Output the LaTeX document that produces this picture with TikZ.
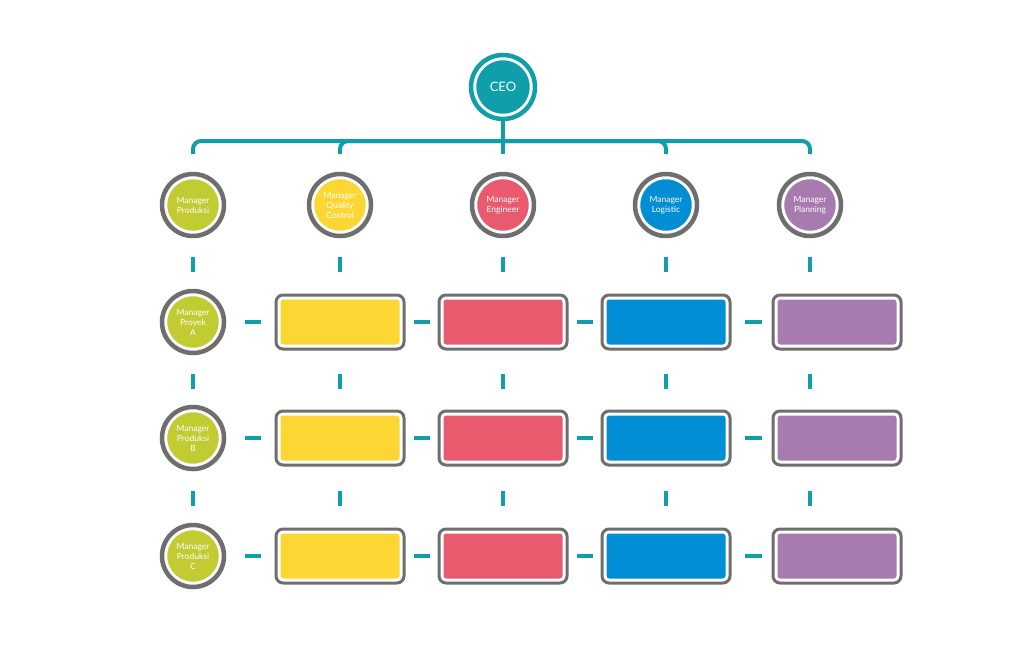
\documentclass[tikz,border=0pt]{standalone}
\usepackage{fontspec}
\setmainfont{Lato}
\definecolor{teal}{HTML}{0E9FAA}
\definecolor{ring}{HTML}{6E6E6E}
\definecolor{cg}{HTML}{C2CB32}
\definecolor{cy}{HTML}{FCD733}
\definecolor{cr}{HTML}{E95A6F}
\definecolor{cb}{HTML}{018ED5}
\definecolor{cp}{HTML}{A77BB0}
\begin{document}
\begin{tikzpicture}[x=1pt,y=-1pt,
  circ/.style={circle,minimum size=62pt,inner sep=0pt,fill=#1,text=white,font=\fontsize{8.5}{10}\selectfont,align=center,
    double=ring,draw=white,double distance=4.5pt,line width=3pt},
  box/.style={rounded corners=7pt,minimum width=128pt,minimum height=54pt,fill=#1,draw=white,line width=3pt,
    double=ring,double distance=3pt},
  dsh/.style={teal,line width=3.5pt},
  bus/.style={teal,line width=4pt,rounded corners=8pt}]
\useasboundingbox (0,0) rectangle (1024,670);
\node[circle,minimum size=64pt,inner sep=0pt,fill=teal,text=white,font=\fontsize{13}{15}\selectfont,
  double=teal,draw=white,double distance=4.5pt,line width=3pt] (ceo) at (503,87) {CEO};
\node[circ=cg] (l1) at (193,205) {Manager\\Produksi};
\node[circ=cy] (l2) at (340,205) {Manager\\Quality\\Control};
\node[circ=cr] (l3) at (503,205) {Manager\\Engineer};
\node[circ=cb] (l4) at (666,205) {Manager\\Logistic};
\node[circ=cp] (l5) at (810,205) {Manager\\Planning};
\coordinate (j) at (503,141);
\coordinate (t1) at (193,154);
\coordinate (t2) at (340,154);
\coordinate (t3) at (503,154);
\coordinate (t4) at (666,154);
\coordinate (t5) at (810,154);
\draw[bus] (ceo.south) -- (t3);
\draw[bus] (t1) |- (j) -| (t5);
\draw[bus] (t2) |- (j);
\draw[bus] (t4) |- (j);
\foreach \r/\y/\t in {2/322/Proyek\\A,3/438/Produksi\\B,4/556/Produksi\\C}{
  \node[circ=cg] (a\r) at (193,\y) {Manager\\\t};
  \node[box=cy] (b\r) at (340,\y) {};
  \node[box=cr] (c\r) at (503,\y) {};
  \node[box=cb] (d\r) at (666,\y) {};
  \node[box=cp] (e\r) at (837,\y) {};
  \draw[dsh] (245,\y) -- (261,\y);
  \draw[dsh] (414,\y) -- (430,\y);
  \draw[dsh] (577,\y) -- (593,\y);
  \draw[dsh] (745,\y) -- (762,\y);
}
\foreach \x in {193,340,503,666,810}{
  \draw[dsh] (\x,257) -- (\x,272);
  \draw[dsh] (\x,374) -- (\x,389);
  \draw[dsh] (\x,491) -- (\x,506);
}
\end{tikzpicture}
\end{document}
